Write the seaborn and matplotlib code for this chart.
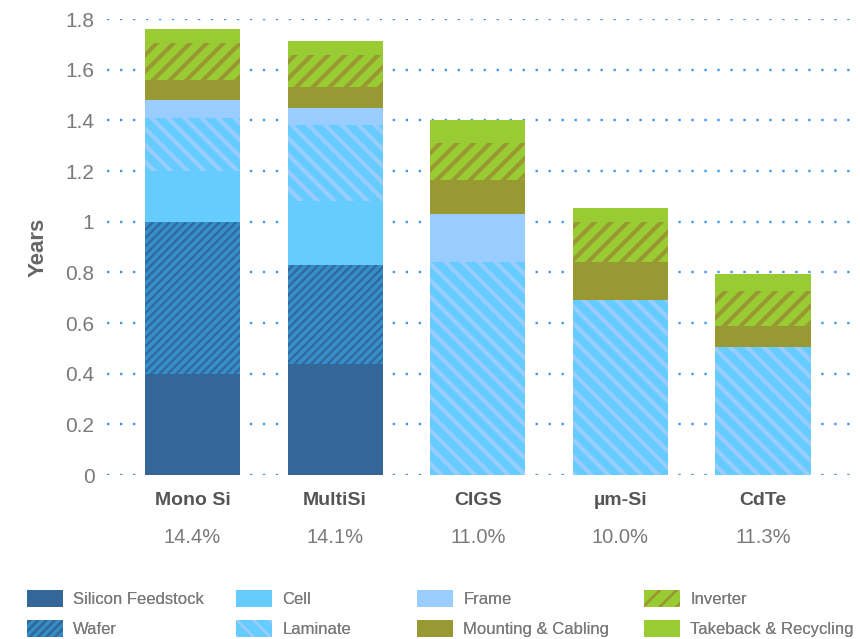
import matplotlib
matplotlib.use("Agg")
import matplotlib.pyplot as plt
import matplotlib.patches as mpatches
import matplotlib.transforms as mtransforms
import numpy as np
import pandas as pd
import seaborn as sns

technologies = ["Mono Si", "MultiSi", "CIGS", "µm-Si", "CdTe"]
efficiencies = ["14.4%", "14.1%", "11.0%", "10.0%", "11.3%"]

components = [
    "Silicon Feedstock", "Wafer", "Cell", "Laminate",
    "Frame", "Mounting & Cabling", "Inverter", "Takeback & Recycling",
]

silicon_feedstock = [0.40, 0.44, 0.00, 0.00, 0.00]
wafer = [0.60, 0.39, 0.00, 0.00, 0.00]
cell = [0.20, 0.25, 0.00, 0.00, 0.00]
laminate = [0.21, 0.30, 0.84, 0.69, 0.505]
frame = [0.07, 0.07, 0.19, 0.00, 0.00]
mounting = [0.08, 0.08, 0.135, 0.15, 0.085]
inverter = [0.145, 0.13, 0.145, 0.16, 0.135]
takeback = [0.055, 0.055, 0.09, 0.055, 0.07]

# face colour, hatch colour, hatch pattern, hatch width
styles = {
    "Silicon Feedstock": ("#336699", "#336699", None, 0),
    "Wafer": ("#338FC8", "#336699", "////", 1.6),
    "Cell": ("#66CCFF", "#66CCFF", None, 0),
    "Laminate": ("#66CCFF", "#99CCFF", "\\\\", 3.0),
    "Frame": ("#99CCFF", "#99CCFF", None, 0),
    "Mounting & Cabling": ("#999933", "#999933", None, 0),
    "Inverter": ("#99CC33", "#999933", "//", 3.0),
    "Takeback & Recycling": ("#99CC33", "#99CC33", None, 0),
}

GRAY = "#7a7a7a"


def main() -> None:
    sns.set_theme(style="white")
    plt.rcParams["font.family"] = ["Liberation Sans", "DejaVu Sans"]

    layers = [silicon_feedstock, wafer, cell, laminate, frame, mounting, inverter, takeback]
    df = pd.DataFrame(dict(zip(components, layers)), index=technologies)
    cum = df.cumsum(axis=1)

    fig = plt.figure(figsize=(8.6, 6.39), dpi=100)
    ax = fig.add_axes([0.1244, 0.2566, 0.8756, 0.7136])

    # draw cumulative totals from the top layer downwards
    for comp in reversed(components):
        face, hcol, hatch, hlw = styles[comp]
        plt.rcParams["hatch.linewidth"] = hlw if hlw else 1.0
        sns.barplot(
            x=technologies, y=cum[comp].values, ax=ax,
            color=face, saturation=1, width=0.667,
            edgecolor=hcol, linewidth=0, hatch=hatch, zorder=3,
        )
        for p in ax.patches[-len(technologies):]:
            p.set_facecolor(face)
            p.set_edgecolor(hcol)
            p.set_linewidth(0)
            if hatch and hasattr(p, "set_hatch_linewidth"):
                p.set_hatch_linewidth(hlw)

    ax.set_xlim(-0.6, 4.68)
    ax.set_ylim(0, 1.8)
    yt = np.arange(0, 1.81, 0.2)
    ax.set_yticks(yt)
    ax.set_yticklabels(["0", "0.2", "0.4", "0.6", "0.8", "1", "1.2", "1.4", "1.6", "1.8"])
    ax.yaxis.grid(True, color="#4496ea", linestyle=(0, (1, 4.5)), linewidth=1.7, zorder=0)
    ax.set_axisbelow(True)
    sns.despine(ax=ax, left=True, bottom=True)
    ax.tick_params(axis="y", length=0, pad=9, labelsize=15, labelcolor=GRAY)
    ax.tick_params(axis="x", length=0, pad=12)
    ax.set_xticks(range(len(technologies)))
    ax.set_xticklabels(technologies, fontsize=14, fontweight="bold", color="#555555")
    ax.set_ylabel("Years", fontsize=16, fontweight="bold", color="#666666", labelpad=12)

    trans = mtransforms.blended_transform_factory(ax.transData, ax.transAxes)
    for i, eff in enumerate(efficiencies):
        ax.text(i, -0.137, eff, transform=trans, ha="center", va="center",
                fontsize=14.5, color=GRAY)

    handles = []
    for comp in components:
        face, hcol, hatch, hlw = styles[comp]
        handles.append(mpatches.Patch(facecolor=face, edgecolor=hcol, hatch=hatch,
                                      linewidth=0, label=comp))
    plt.rcParams["hatch.linewidth"] = 2.0
    # one small legend per column so each column starts where the reference has it
    col_x = [28, 237, 418, 645]
    for j, x0 in enumerate(col_x):
        leg = fig.legend(
            handles=handles[2 * j:2 * j + 2], loc="lower left",
            bbox_to_anchor=(x0 / 860 - 0.019, -0.021), ncol=1,
            frameon=False, fontsize=12, labelcolor=GRAY, handlelength=2.2,
            handleheight=1.2, labelspacing=0.78, handletextpad=0.6,
        )
        fig.add_artist(leg)

    fig.savefig("out.png", dpi=100)
    plt.close(fig)


if __name__ == "__main__":
    main()
